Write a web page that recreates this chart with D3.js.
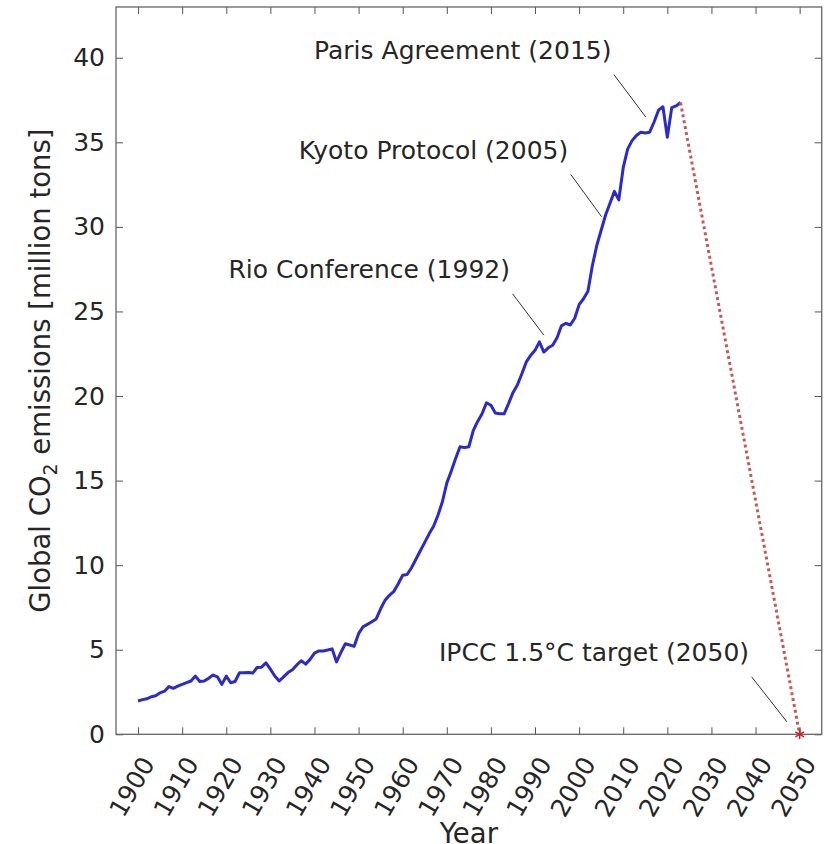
<!DOCTYPE html>
<html>
<head>
<meta charset="utf-8">
<script src="https://cdn.jsdelivr.net/npm/d3@7"></script>
<style>
	body { margin: 0; background: #fff; }
	text { font-family: 'DejaVu Sans', sans-serif; fill: #262626; }
	.tick line { stroke: #555; }
</style>
</head>
<body>
<script>
	var width = 838;
	var height = 844;

	// annual global emissions, 1900..2023
	var years = d3.range(1900, 2024);
	var emissions = [
		1.97, 2.05, 2.10, 2.22, 2.28, 2.45, 2.55, 2.82, 2.72, 2.85,
		2.95, 3.05, 3.15, 3.44, 3.12, 3.15, 3.32, 3.50, 3.40, 2.95,
		3.44, 3.05, 3.12, 3.64, 3.64, 3.65, 3.62, 3.95, 3.97, 4.22,
		3.85, 3.45, 3.15, 3.40, 3.65, 3.82, 4.10, 4.35, 4.15, 4.43,
		4.80, 4.93, 4.93, 4.98, 5.05, 4.28, 4.85, 5.35, 5.28, 5.20,
		5.95, 6.35, 6.50, 6.65, 6.82, 7.42, 7.92, 8.22, 8.45, 8.90,
		9.40, 9.45, 9.85, 10.35, 10.85, 11.35, 11.85, 12.30, 12.95, 13.75,
		14.85, 15.55, 16.30, 17.00, 16.95, 17.00, 17.95, 18.50, 18.95, 19.60,
		19.45, 19.00, 18.95, 18.95, 19.55, 20.20, 20.65, 21.30, 22.00, 22.40,
		22.70, 23.20, 22.60, 22.85, 23.00, 23.45, 24.15, 24.30, 24.20, 24.60,
		25.40, 25.75, 26.20, 27.70, 28.90, 29.80, 30.70, 31.40, 32.10, 31.60,
		33.50, 34.60, 35.10, 35.40, 35.60, 35.55, 35.60, 36.20, 36.90, 37.10,
		35.30, 37.05, 37.15, 37.35
	];

	// path to the target
	var targetYears = [2023, 2050];
	var targetValues = [37.35, 0];

	var xTicks = d3.range(1900, 2051, 10);
	var yTicks = [0, 5, 10, 15, 20, 25, 30, 35, 40];

	var noteLabels = ["Paris Agreement (2015)", "Kyoto Protocol (2005)", "Rio Conference (1992)", "IPCC 1.5°C target (2050)"];
	var noteTip = [[2015.1, 36.5], [2005.1, 30.6], [1992.0, 23.6], [2047.1, 0.74]];
	var noteTail = [[2007.9, 39.0], [1998.1, 33.1], [1984.9, 26.05], [2039.1, 3.4]];

	var margin = {top: 7, right: 16.3, bottom: 109.7, left: 116};
	var w = width - margin.left - margin.right;
	var h = height - margin.top - margin.bottom;

	var svg = d3.select("body")
		.append("svg")
		.attr("width", width)
		.attr("height", height);

	var g = svg.append("g")
		.attr("transform", "translate(" + margin.left + "," + margin.top + ")");

	var x = d3.scaleLinear().domain([1895, 2055]).range([0, w]);
	var y = d3.scaleLinear().domain([0, 43]).range([h, 0]);

	// axes, ticks pointing inwards on all four sides
	var xb = g.append("g")
		.attr("transform", "translate(0," + h + ")")
		.call(d3.axisBottom(x).tickValues(xTicks).tickSize(-7).tickFormat(""));
	var xt = g.append("g")
		.call(d3.axisTop(x).tickValues(xTicks).tickSize(-7).tickFormat(""));
	var yl = g.append("g")
		.call(d3.axisLeft(y).tickValues(yTicks).tickSize(-7).tickPadding(11));
	var yr = g.append("g")
		.attr("transform", "translate(" + w + ",0)")
		.call(d3.axisRight(y).tickValues(yTicks).tickSize(-7).tickFormat(""));

	[xb, xt, yl, yr].forEach(function(a) { a.select(".domain").remove(); });

	yl.selectAll("text")
		.style("font-size", "25px")
		.style("font-family", "'DejaVu Sans', sans-serif")
		.attr("fill", "#262626");

	g.selectAll(".xlab")
		.data(xTicks)
		.enter().append("text")
			.attr("class", "xlab")
			.attr("text-anchor", "end")
			.attr("dominant-baseline", "central")
			.attr("transform", function(d) { return "translate(" + (x(d) + 10) + "," + (h + 25) + ") rotate(-60)"; })
			.style("font-size", "25px")
			.text(function(d) { return d; });

	g.append("rect")
		.attr("width", w)
		.attr("height", h)
		.attr("fill", "none")
		.attr("stroke", "#666")
		.attr("stroke-width", 1.3);

	// data line
	var line = d3.line()
		.x(function(d, i) { return x(years[i]); })
		.y(function(d) { return y(d); });

	g.append("path")
		.datum(emissions)
		.attr("d", line)
		.attr("fill", "none")
		.attr("stroke", "#2b2bc9")
		.attr("stroke-width", 3)
		.attr("stroke-linejoin", "round");

	var tline = d3.line()
		.x(function(d, i) { return x(targetYears[i]); })
		.y(function(d) { return y(d); });

	g.append("path")
		.datum(targetValues)
		.attr("d", tline)
		.attr("fill", "none")
		.attr("stroke", "#c65a5a")
		.attr("stroke-width", 3)
		.attr("stroke-dasharray", "3,3");

	g.append("path")
		.attr("d", d3.symbol(d3.symbolAsterisk, 70)())
		.attr("transform", "translate(" + x(2050) + "," + y(0) + ")")
		.attr("fill", "none")
		.attr("stroke", "#d42020")
		.attr("stroke-width", 1.5);

	// annotations
	noteLabels.forEach(function(label, i) {
		var tx = x(noteTail[i][0]), ty = y(noteTail[i][1]);
		g.append("line")
			.attr("x1", tx).attr("y1", ty)
			.attr("x2", x(noteTip[i][0])).attr("y2", y(noteTip[i][1]))
			.attr("stroke", "#333")
			.attr("stroke-width", 1);
		g.append("text")
			.attr("x", tx - 2.5)
			.attr("y", ty - 15.5)
			.attr("text-anchor", "end")
			.style("font-size", "25px")
			.text(label);
	});

	// axis labels
	var ylab = svg.append("text")
		.attr("transform", "translate(50," + (margin.top + h / 2) + ") rotate(-90)")
		.attr("text-anchor", "middle")
		.style("font-size", "27.5px");
	ylab.append("tspan").text("Global CO");
	ylab.append("tspan").attr("dy", 7).style("font-size", "19px").text("2");
	ylab.append("tspan").attr("dy", -7).text(" emissions [million tons]");

	svg.append("text")
		.attr("x", margin.left + w / 2)
		.attr("y", 843)
		.attr("text-anchor", "middle")
		.style("font-size", "27.5px")
		.text("Year");
</script>
</body>
</html>
